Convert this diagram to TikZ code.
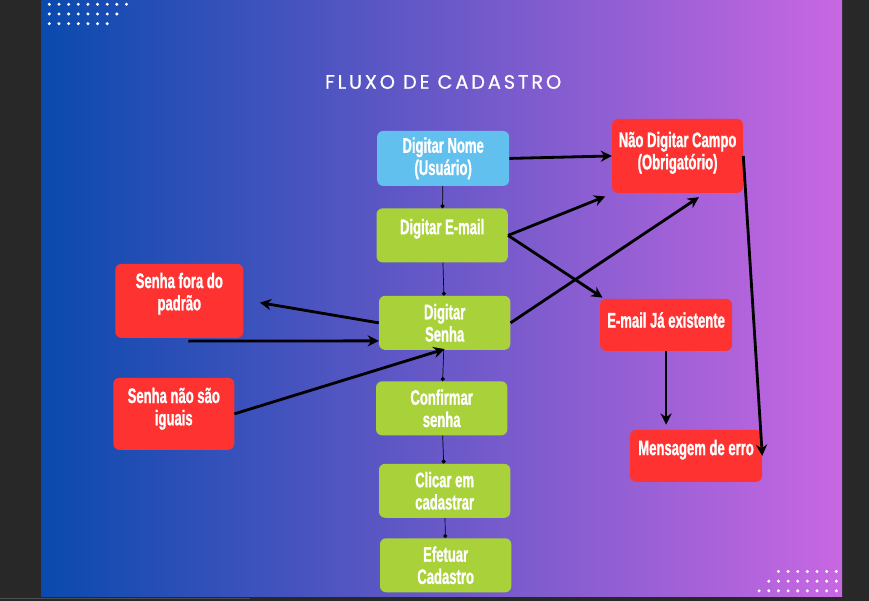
\documentclass[tikz,border=0pt]{standalone}
\usepackage{fontspec}
\usetikzlibrary{arrows.meta}
\newfontfamily\boxfont[FakeStretch=0.62,FakeBold=1]{Liberation Sans}
\newfontfamily\titlefont[LetterSpace=15,FakeBold=0.8]{Poppins}
\definecolor{frame}{HTML}{282828}
\definecolor{gradleft}{HTML}{0A4AAE}
\definecolor{gradmid}{HTML}{6458C8}
\definecolor{gradright}{HTML}{C867E2}
\definecolor{nomeblue}{HTML}{62C0EE}
\definecolor{passgreen}{HTML}{A9D13A}
\definecolor{errred}{HTML}{FF3232}

\begin{document}
\begin{tikzpicture}[x=0.03cm,y=-0.03cm,
    box/.style={rounded corners=0.18cm,inner sep=2pt,align=center,text=white,
                font=\boxfont\bfseries\fontsize{18}{19}\selectfont},
    blue box/.style={box,fill=nomeblue,minimum width=3.96cm,minimum height=1.65cm},
    green box/.style={box,fill=passgreen,minimum width=3.94cm,minimum height=1.62cm},
    red box/.style={box,fill=errred},
    flow/.style={line width=0.6pt,-{Circle[length=3.5pt]}},
    alert/.style={line width=2.4pt,-{Stealth[length=9.5pt,width=9.5pt]}}
  ]
  % background
  \fill[frame] (0,0) rectangle (869,601);
  \shade[left color=gradleft,middle color=gradmid,right color=gradright] (41,0) rectangle (842,597);
  \draw[black!70,line width=0.6pt] (0,599) -- (250,599);
  \foreach \r/\n in {0/9,1/8,2/7}
    \foreach \i in {1,...,\n}
      \fill[white] (49+\i*9.65-9.65,4.3+\r*9.7) circle (0.05cm);
  \foreach \r/\n in {0/7,1/8,2/9}
    \foreach \i in {1,...,\n}
      \fill[white] (836.3-\i*9.65+9.65,571.7+\r*9.7) circle (0.05cm);

  \node[text=white,font=\titlefont\fontsize{16.5}{18}\selectfont] (titulo) at (443,82) {FLUXO DE CADASTRO};

  \node[blue box] (nome) at (443,158.5) {Digitar Nome\\(Usuário)};
  \node[green box,text depth=0.53cm] (email) at (442,235.5) {Digitar E-mail};
  \node[green box] (senha) at (444.5,323) {Digitar\\Senha};
  \node[green box] (confirmar) at (441.5,408.5) {Confirmar\\senha};
  \node[green box] (clicar) at (444.5,491) {Clicar em\\cadastrar};
  \node[green box] (efetuar) at (445.5,565.5) {Efetuar\\Cadastro};

  \node[red box,minimum width=3.93cm,minimum height=2.22cm,text depth=0.32cm] (campo) at (677.5,156) {Não Digitar Campo\\(Obrigatório)};
  \node[red box,minimum width=3.96cm,minimum height=1.56cm,text depth=0.3cm] (existente) at (666,325) {E-mail Já existente};
  \node[red box,minimum width=3.96cm,minimum height=1.56cm,text depth=0.5cm] (erro) at (696,456) {Mensagem de erro};
  \node[red box,minimum width=3.84cm,minimum height=2.22cm,text depth=0.56cm] (padrao) at (179,301) {Senha fora do\\padrão};
  \node[red box,minimum width=3.63cm,minimum height=2.16cm,text depth=0.44cm] (iguais) at (173.5,414) {Senha não são\\iguais};

  \path[flow]
   (nome) edge (email)
   (email) edge (senha)
   (senha) edge (confirmar)
   (confirmar) edge (clicar)
   (clicar) edge (efetuar);

  \path[alert]
   (nome.east) edge (campo.west)
   (email.east) edge ([xshift=-0.2cm,yshift=-0.1cm]campo.south west)
   (email.east) edge ([xshift=0.08cm,yshift=0.03cm]existente.north west)
   (senha.east) edge ([xshift=0.64cm,yshift=-0.12cm]campo.south)
   (senha.west) edge[shorten >=0.5cm] ([yshift=0.03cm]padrao.east)
   ([xshift=0.27cm,yshift=-0.09cm]padrao.south) edge ([yshift=-0.54cm]senha.west)
   (iguais.east) edge ([yshift=0.03cm]senha.south)
   (existente.south) edge ([yshift=0.15cm]existente.south |- erro.north)
   (campo.east) edge (erro.east);
\end{tikzpicture}
\end{document}
